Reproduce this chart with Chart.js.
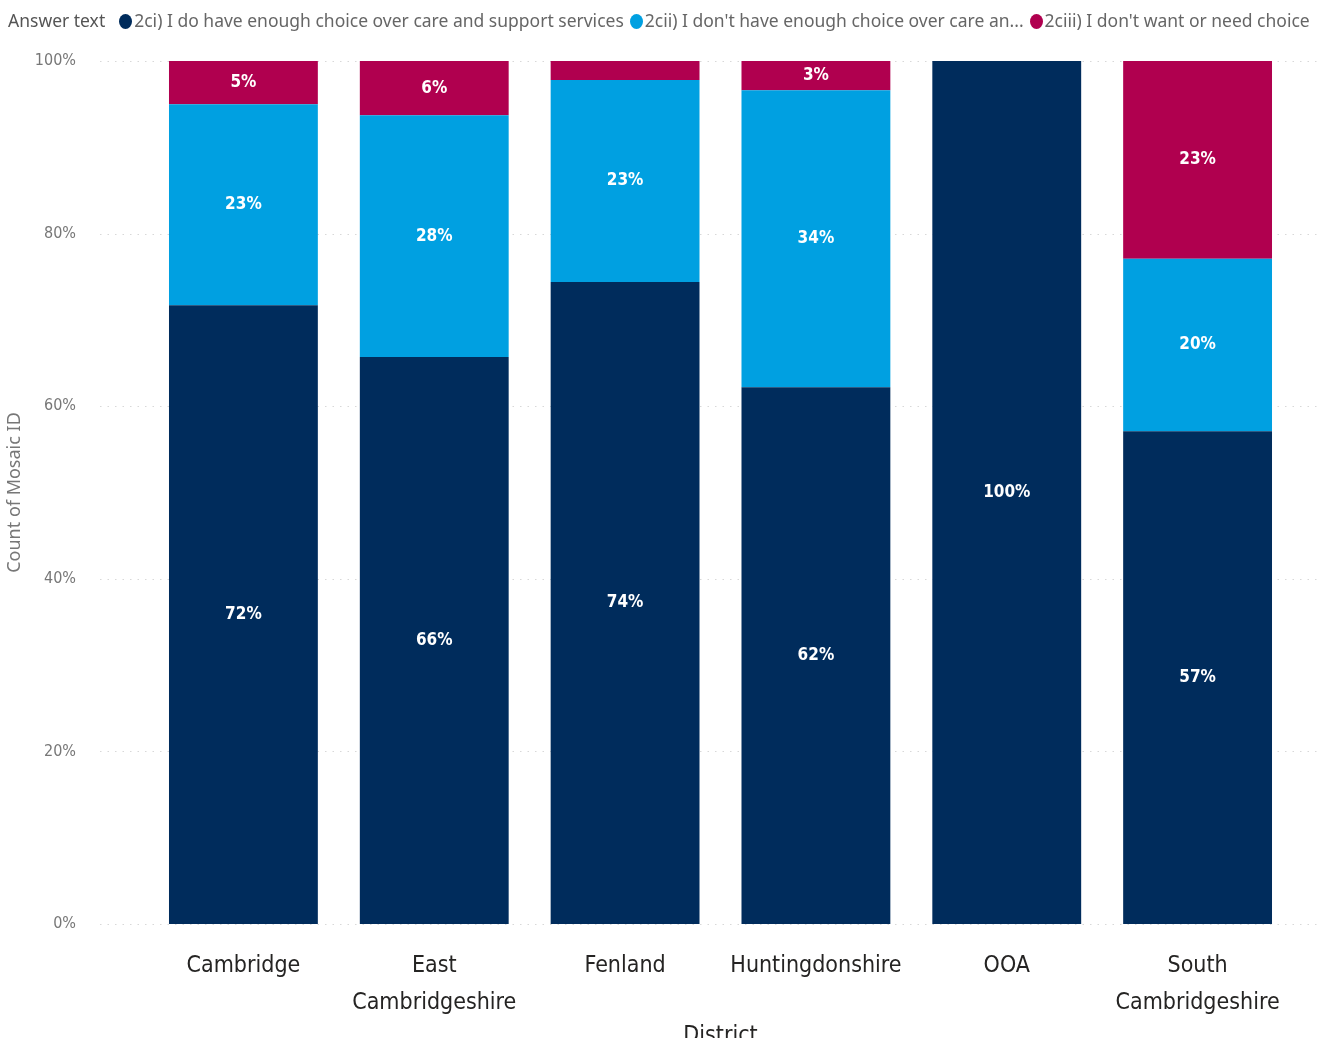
<!DOCTYPE html>
<html>
<head>
<meta charset="utf-8">
<script src="https://cdn.jsdelivr.net/npm/chart.js@4.4.1/dist/chart.umd.min.js"></script>
<style>
    html, body { margin: 0; padding: 0; background: #fff; overflow: hidden; }
    #wrap { position: relative; width: 1340px; height: 1060px; }
    #legend {
        position: absolute; left: 8px; top: 8px; width: 1312px; height: 30px;
        overflow: hidden; white-space: nowrap;
        font-family: "Noto Sans", "Open Sans", sans-serif; font-size: 17.5px; color: #666;
    }
    #legend .title { color: #555; margin-right: 14px; }
    #legend .item { margin-right: 6px; }
    #legend .dot {
        display: inline-block; width: 13px; height: 15px; border-radius: 50%;
        vertical-align: -2px; margin-right: 2px;
    }
    canvas { display: block; }
</style>
</head>
<body>
<div id="wrap">
    <div id="legend"></div>
    <canvas id="chart" width="1340" height="1060"></canvas>
</div>
<script>
const legendTitle = "Answer text";
const districts = ["Cambridge", ["East", "Cambridgeshire"], "Fenland", "Huntingdonshire", "OOA", ["South", "Cambridgeshire"]];
const seriesNames = [
    "2ci) I do have enough choice over care and support services",
    "2cii) I don't have enough choice over care and support services",
    "2ciii) I don't want or need choice"
];
const legendNames = [
    "2ci) I do have enough choice over care and support services",
    "2cii) I don't have enough choice over care an...",
    "2ciii) I don't want or need choice"
];
const haveEnough = [71.7, 65.7, 74.4, 62.2, 100, 57.1];
const notEnough = [23.3, 28.0, 23.4, 34.4, 0, 20.0];
const dontWant = [5.0, 6.3, 2.2, 3.4, 0, 22.9];
const yTicks = [0, 20, 40, 60, 80, 100];

const colors = ["#002c5c", "#00a0e1", "#b0004f"];
const seriesData = [haveEnough, notEnough, dontWant];

// legend
const legend = document.getElementById("legend");
legend.innerHTML = `<span class="title">${legendTitle}</span>` + legendNames.map((n, i) =>
    `<span class="item"><span class="dot" style="background:${colors[i]}"></span>${n}</span>`).join("");

const condensed = '"DejaVu Sans Condensed", "DejaVu Sans", sans-serif';

const dottedGrid = {
    id: "dottedGrid",
    beforeDatasetsDraw(chart) {
        const y = chart.scales.y;
        const ctx = chart.ctx;
        ctx.save();
        ctx.strokeStyle = "#d8d8d8";
        ctx.lineWidth = 1;
        ctx.setLineDash([1.5, 6]);
        yTicks.forEach(v => {
            const py = Math.round(y.getPixelForValue(v)) + 0.5;
            ctx.beginPath();
            ctx.moveTo(100, py);
            ctx.lineTo(1320, py);
            ctx.stroke();
        });
        ctx.restore();
    }
};

const barLabels = {
    id: "barLabels",
    afterDatasetsDraw(chart) {
        const ctx = chart.ctx;
        ctx.save();
        ctx.fillStyle = "#fff";
        ctx.font = "bold 17px " + condensed;
        ctx.textAlign = "center";
        ctx.textBaseline = "middle";
        chart.data.datasets.forEach((ds, di) => {
            chart.getDatasetMeta(di).data.forEach((bar, i) => {
                const v = ds.data[i];
                if (!v) return;
                const h = Math.abs(bar.base - bar.y);
                if (h < 24) return;
                ctx.fillText(Math.round(v) + "%", bar.x, (bar.y + bar.base) / 2);
            });
        });
        ctx.restore();
    }
};

new Chart(document.getElementById("chart"), {
    type: "bar",
    data: {
        labels: districts,
        datasets: seriesNames.map((n, i) => ({
            label: n,
            data: seriesData[i],
            backgroundColor: colors[i],
            barPercentage: 0.78,
            categoryPercentage: 1
        }))
    },
    options: {
        responsive: false,
        animation: false,
        layout: { padding: { top: 61, right: 47, bottom: 0, left: 0 } },
        plugins: { legend: { display: false }, tooltip: { enabled: false } },
        scales: {
            x: {
                stacked: true,
                grid: { display: false, drawTicks: false },
                border: { display: false },
                ticks: { color: "#252423", font: { family: condensed, size: 23, lineHeight: 1.6 }, padding: 24, maxRotation: 0 },
                title: { display: true, text: "District", color: "#252423", font: { family: condensed, size: 23 }, padding: { top: 0, bottom: 10 } },
                afterFit: s => { s.height = 136; }
            },
            y: {
                stacked: true,
                min: 0, max: 100,
                afterBuildTicks: s => { s.ticks = yTicks.map(v => ({ value: v })); },
                grid: { display: false, drawTicks: false },
                border: { display: false },
                ticks: { color: "#777", font: { family: condensed, size: 16 }, padding: 72, callback: v => v + "%" },
                title: { display: true, text: "Count of Mosaic ID", color: "#777", font: { family: "Noto Sans, sans-serif", size: 18 }, padding: { top: 4, bottom: 0 } },
                afterFit: s => { s.width = 148; s.paddingTop = 0; s.paddingBottom = 0; }
            }
        }
    },
    plugins: [dottedGrid, barLabels]
});
</script>
</body>
</html>
